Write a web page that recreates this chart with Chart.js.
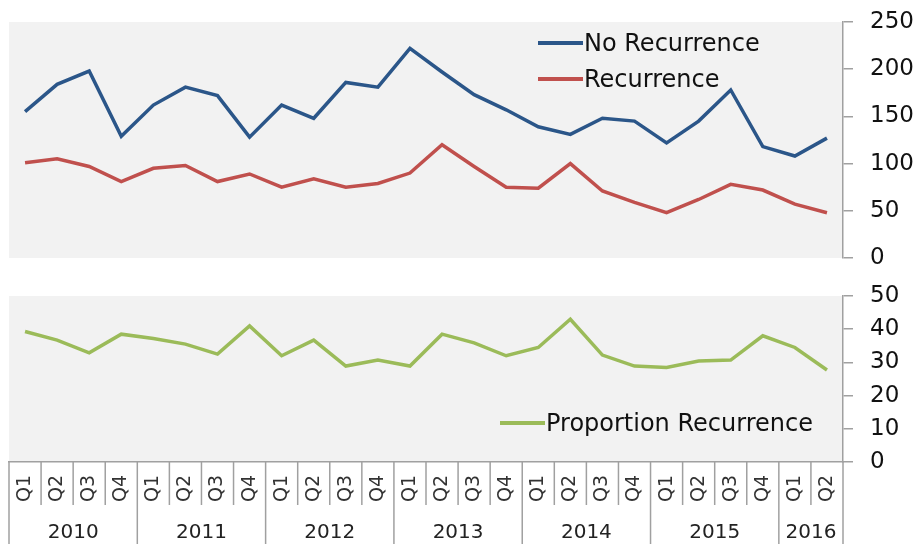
<!DOCTYPE html>
<html><head><meta charset="utf-8">
<script src="https://cdn.jsdelivr.net/npm/chart.js@4.4.1/dist/chart.umd.min.js"></script>
<style>
html,body{margin:0;padding:0;background:#fff;}
#wrap{position:relative;width:917px;height:544px;overflow:hidden;}
canvas{position:absolute;left:0;top:0;}
.leg{position:absolute;font-family:'DejaVu Sans';font-size:24px;line-height:28px;color:#111;white-space:nowrap;display:flex;align-items:center;}
.leg i{display:inline-block;width:45px;height:4px;margin-right:1px;}
</style></head><body>
<div id="wrap">
<canvas id="cTop" width="917" height="544"></canvas>
<canvas id="cBot" width="917" height="544"></canvas>
<div id="legTop"></div>
<div id="legBot"></div>
</div>
<script>
const quarters = ['Q1','Q2','Q3','Q4','Q1','Q2','Q3','Q4','Q1','Q2','Q3','Q4','Q1','Q2','Q3','Q4','Q1','Q2','Q3','Q4','Q1','Q2','Q3','Q4','Q1','Q2'];
const years = ['2010','2011','2012','2013','2014','2015','2016'];
const noRecurrence = [155,184,198,129,162,181,172,128,162,148,186,181,222,197,173,157,139,131,148,145,122,145,178,118,108,127];
const recurrence = [101,105,97,81,95,98,81,89,75,84,75,79,90,120,97,75,74,100,71,59,48,62,78,72,57,48];
const proportion = [39.3,36.7,32.9,38.5,37.2,35.5,32.5,41,32,36.7,28.9,30.7,28.9,38.5,35.9,32,34.5,43,32.2,28.9,28.5,30.4,30.7,38,34.5,27.7];
const topTicks = [0,50,100,150,200,250];
const botTicks = [0,10,20,30,40,50];

const FONT = 'DejaVu Sans';
const bgPlugin = {
  id: 'bg',
  beforeDraw(chart) {
    const {ctx, chartArea: a} = chart;
    ctx.save();
    ctx.fillStyle = '#f2f2f2';
    ctx.fillRect(a.left, a.top, a.right - a.left, a.bottom - a.top);
    ctx.restore();
  }
};

const yAxis = (ticksArr) => ({
  position: 'right',
  min: ticksArr[0], max: ticksArr[ticksArr.length-1],
  afterBuildTicks: (s) => { s.ticks = ticksArr.map(v => ({value: v})); },
  afterFit: (s) => { s.width = 74; s.paddingTop = 0; s.paddingBottom = 0; },
  grid: {drawOnChartArea: false, drawTicks: true, tickLength: 10, color: '#a0a0a0', lineWidth: 1.5},
  border: {display: true, color: '#a0a0a0', width: 1.5},
  ticks: {font: {family: FONT, size: 23}, color: '#111', padding: 17}
});

const common = {
  responsive: false,
  animation: false,
  devicePixelRatio: 1,
  plugins: {legend: {display: false}, tooltip: {enabled: false}},
  elements: {point: {radius: 0}, line: {tension: 0, borderWidth: 3.5}}
};

const chartTop = new Chart(document.getElementById('cTop'), {
  type: 'line',
  data: {
    labels: quarters,
    datasets: [
      {label: 'No Recurrence', data: noRecurrence, borderColor: '#2B5689'},
      {label: 'Recurrence', data: recurrence, borderColor: '#C0504D'}
    ]
  },
  options: Object.assign({}, common, {
    layout: {padding: {top: 22, bottom: 286, left: 9, right: 0}},
    scales: {
      x: {type: 'category', offset: true, display: false},
      y: yAxis(topTicks)
    }
  }),
  plugins: [bgPlugin]
});

const xAxisPlugin = {
  id: 'xgroups',
  afterDraw(chart) {
    const {ctx} = chart;
    const xs = chart.scales.x;
    const n = quarters.length;
    const half = (xs.getPixelForValue(1) - xs.getPixelForValue(0)) / 2;
    const top = xs.top, bottom = chart.height;
    ctx.save();
    ctx.strokeStyle = '#a0a0a0';
    ctx.lineWidth = 1.5;
    const yearStarts = [];
    for (let i = 0; i <= n; i++) {
      const x = i < n ? xs.getPixelForValue(i) - half : xs.getPixelForValue(n - 1) + half;
      const isYear = i === 0 || i === n || quarters[i] === 'Q1';
      if (isYear) yearStarts.push(x);
      ctx.beginPath();
      ctx.moveTo(x, top);
      ctx.lineTo(x, isYear ? bottom : top + 43);
      ctx.stroke();
    }
    ctx.fillStyle = '#222';
    ctx.font = '20px "' + FONT + '"';
    ctx.textAlign = 'center';
    ctx.textBaseline = 'middle';
    for (let k = 0; k < years.length; k++) {
      ctx.fillText(years[k], (yearStarts[k] + yearStarts[k + 1]) / 2, 533);
    }
    ctx.restore();
  }
};

const chartBot = new Chart(document.getElementById('cBot'), {
  type: 'line',
  data: {
    labels: quarters,
    datasets: [
      {label: 'Proportion Recurrence', data: proportion, borderColor: '#9BBB59'}
    ]
  },
  options: Object.assign({}, common, {
    layout: {padding: {top: 296, bottom: 0, left: 9, right: 0}},
    scales: {
      x: {
        type: 'category', offset: true,
        afterFit: (s) => { s.height = 82; },
        grid: {display: false, drawTicks: false},
        border: {display: true, color: '#a0a0a0', width: 1.5},
        ticks: {autoSkip: false, minRotation: 90, maxRotation: 90, padding: 13,
                font: {family: FONT, size: 19}, color: '#333'}
      },
      y: yAxis(botTicks)
    }
  }),
  plugins: [bgPlugin, xAxisPlugin]
});

function buildLegend(chart, el, left, tops) {
  chart.data.datasets.forEach((ds, i) => {
    const d = document.createElement('div');
    d.className = 'leg';
    d.style.left = left + 'px';
    d.style.top = tops[i] + 'px';
    const sw = document.createElement('i');
    sw.style.background = ds.borderColor;
    d.appendChild(sw);
    const t = document.createElement('span');
    t.textContent = ds.label;
    d.appendChild(t);
    el.appendChild(d);
  });
}
buildLegend(chartTop, document.getElementById('legTop'), 538, [29, 65]);
buildLegend(chartBot, document.getElementById('legBot'), 500, [409]);
</script>
</body></html>
